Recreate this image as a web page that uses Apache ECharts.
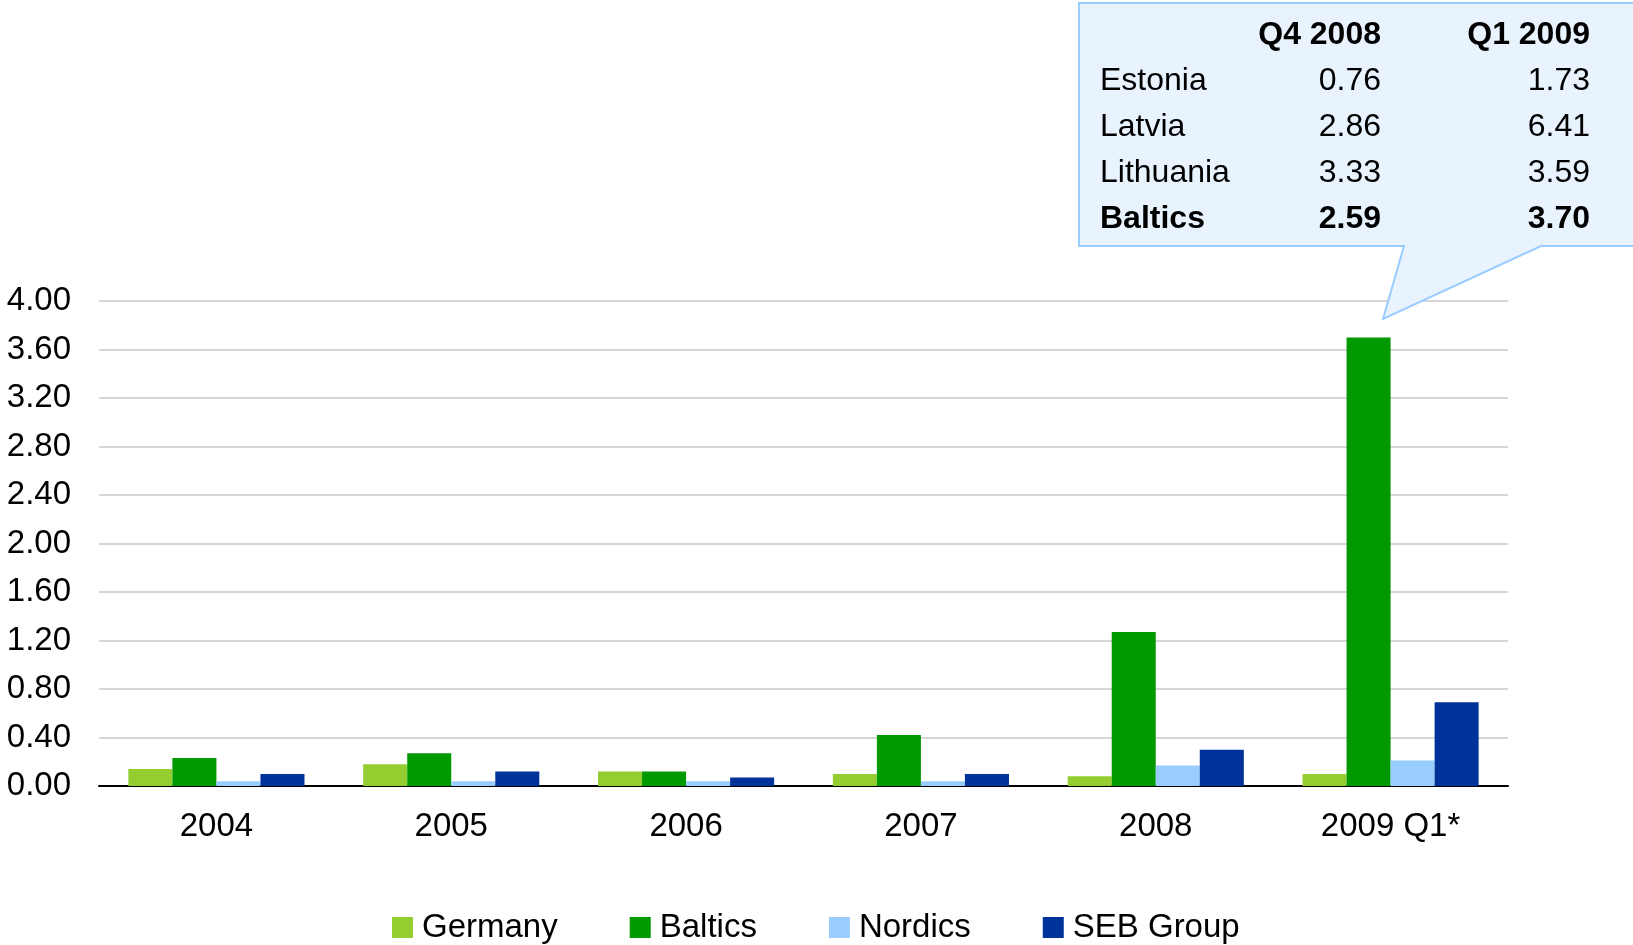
<!DOCTYPE html>
<html>
<head>
<meta charset="utf-8">
<script src="https://cdn.jsdelivr.net/npm/echarts@6/dist/echarts.min.js"></script>
<style>
  html, body { margin: 0; padding: 0; background: #fff; }
  #chart { width: 1633px; height: 945px; }
</style>
</head>
<body>
<div id="chart"></div>
<script>
var years = ["2004", "2005", "2006", "2007", "2008", "2009 Q1*"];
var germany = [0.14, 0.18, 0.12, 0.10, 0.08, 0.10];
var baltics = [0.23, 0.27, 0.12, 0.42, 1.27, 3.70];
var nordics = [0.04, 0.04, 0.04, 0.04, 0.17, 0.21];
var sebGroup = [0.10, 0.12, 0.07, 0.10, 0.30, 0.69];

// callout table
var tableHead = ["Q4 2008", "Q1 2009"];
var tableRows = ["Estonia", "Latvia", "Lithuania", "Baltics"];
var q4_2008 = ["0.76", "2.86", "3.33", "2.59"];
var q1_2009 = ["1.73", "6.41", "3.59", "3.70"];

var font = "Liberation Sans, Arial, sans-serif";
var myChart = echarts.init(document.getElementById("chart"));

function makeTable() {
  var els = [];
  var rowY = [35, 81, 127, 173, 219];
  els.push({
    type: "polygon",
    shape: {
      points: [[1079, 3], [1640, 3], [1640, 246], [1541, 246], [1383, 319], [1404, 246], [1079, 246]]
    },
    style: { fill: "#e8f3fe", stroke: "#99ccff", lineWidth: 2 },
    z: 10
  });
  var colX = [1381, 1590];
  for (var c = 0; c < tableHead.length; c++) {
    els.push({
      type: "text", x: colX[c], y: rowY[0], z: 11,
      style: { text: tableHead[c], font: "bold 32px " + font, fill: "#000", align: "right", verticalAlign: "middle" }
    });
  }
  for (var i = 0; i < tableRows.length; i++) {
    var weight = tableRows[i] == "Baltics" ? "bold " : "";
    var cols = [tableRows[i], q4_2008[i], q1_2009[i]];
    var xs = [1100, colX[0], colX[1]];
    for (var j = 0; j < cols.length; j++) {
      els.push({
        type: "text", x: xs[j], y: rowY[i + 1], z: 11,
        style: {
          text: cols[j], font: weight + "32px " + font, fill: "#000",
          align: j == 0 ? "left" : "right", verticalAlign: "middle"
        }
      });
    }
  }
  return els;
}

function bar(name, data, color) {
  return {
    name: name,
    type: "bar",
    data: data,
    barGap: "0%",
    barCategoryGap: "25%",
    itemStyle: { color: color },
    emphasis: { disabled: true }
  };
}

myChart.setOption({
  animation: false,
  backgroundColor: "#fff",
  textStyle: { fontFamily: font },
  grid: { left: 99, right: 125, top: 301, bottom: 159 },
  legend: {
    left: 387,
    top: 906,
    itemWidth: 21,
    itemHeight: 21,
    itemGap: 72,
    icon: "rect",
    textStyle: { fontSize: 33, color: "#000", fontFamily: font, padding: [0, 0, 0, 4] },
    data: ["Germany", "Baltics", "Nordics", "SEB Group"]
  },
  xAxis: {
    type: "category",
    data: years,
    axisLine: { lineStyle: { color: "#000", width: 2 } },
    axisTick: { show: false },
    axisLabel: { fontSize: 33, color: "#000", margin: 24 }
  },
  yAxis: {
    type: "value",
    min: 0,
    max: 4,
    interval: 0.4,
    axisLine: { show: false },
    axisTick: { show: false },
    splitLine: { lineStyle: { color: "#c8c8c8", width: 1.5 } },
    axisLabel: {
      fontSize: 33, color: "#000", margin: 28, padding: [4, 0, 0, 0],
      formatter: function (v) { return v.toFixed(2); }
    }
  },
  series: [
    bar("Germany", germany, "#93cd2f"),
    bar("Baltics", baltics, "#009900"),
    bar("Nordics", nordics, "#99ccff"),
    bar("SEB Group", sebGroup, "#003399")
  ],
  graphic: makeTable()
});
</script>
</body>
</html>
